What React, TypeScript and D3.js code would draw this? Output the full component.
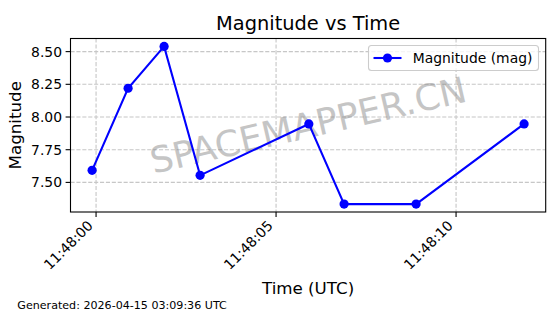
import React from "react";
import * as d3 from "d3";

const times: string[] = [
  "11:47:59.89",
  "11:48:00.89",
  "11:48:01.89",
  "11:48:02.89",
  "11:48:05.91",
  "11:48:06.89",
  "11:48:08.89",
  "11:48:11.89",
];
const magnitudes: number[] = [7.592, 8.22, 8.54, 7.554, 7.947, 7.334, 7.334, 7.947];
const yTicks: number[] = [7.5, 7.75, 8.0, 8.25, 8.5];
const xTickLabels: string[] = ["11:48:00", "11:48:05", "11:48:10"];

const title = "Magnitude vs Time";
const xLabel = "Time (UTC)";
const yLabel = "Magnitude";
const legendLabel = "Magnitude (mag)";
const watermark = "SPACEMAPPER.CN";
const footer = "Generated: 2026-04-15 03:09:36 UTC";

function parseT(s: string): Date {
  const [h, m, sec] = s.split(":");
  const secs = parseFloat(sec);
  const whole = Math.floor(secs);
  const ms = Math.round((secs - whole) * 1000);
  return new Date(Date.UTC(2026, 3, 15, +h, +m, whole, ms));
}

const W = 560;
const H = 314;
const L = 70.5;
const R = 545.7;
const T = 38.5;
const B = 212;
const FONT = "'DejaVu Sans', sans-serif";

export default function App() {
  const dates = times.map(parseT);
  const tMin = d3.min(dates)!.getTime();
  const tMax = d3.max(dates)!.getTime();
  const tPad = (tMax - tMin) * 0.05;
  const x = d3
    .scaleUtc()
    .domain([new Date(tMin - tPad), new Date(tMax + tPad)])
    .range([L, R]);
  const yMin = d3.min(magnitudes)!;
  const yMax = d3.max(magnitudes)!;
  const yPad = (yMax - yMin) * 0.05;
  const y = d3.scaleLinear().domain([yMin - yPad, yMax + yPad]).range([B, T]);

  const xTicks = xTickLabels.map(parseT);
  const pts = dates.map((d, i) => [x(d), y(magnitudes[i])] as [number, number]);
  const line = d3.line()(pts) || "";
  const fmt = d3.format(".2f");
  const dash = "4.1,1.8";
  const gridColor = "#b0b0b0";

  const cx = (L + R) / 2;
  const cy = (T + B) / 2;

  const legX = 368.5;
  const legY = 45.5;

  return (
    <svg
      width={W}
      height={H}
      style={{ position: "absolute", left: 0, top: 0, background: "#fff" }}
      fontFamily={FONT}
    >
      <rect x={0} y={0} width={W} height={H} fill="#fff" />
      {/* grid */}
      <g opacity={0.7}>
        {xTicks.map((t, i) => (
          <line
            key={"gx" + i}
            x1={x(t)}
            x2={x(t)}
            y1={T}
            y2={B}
            stroke={gridColor}
            strokeWidth={1.1}
            strokeDasharray={dash}
          />
        ))}
        {yTicks.map((v, i) => (
          <line
            key={"gy" + i}
            x1={L}
            x2={R}
            y1={y(v)}
            y2={y(v)}
            stroke={gridColor}
            strokeWidth={1.1}
            strokeDasharray={dash}
          />
        ))}
      </g>
      {/* watermark */}
      <text
        x={cx}
        y={cy}
        transform={`rotate(-13 ${cx} ${cy})`}
        textAnchor="middle"
        dominantBaseline="central"
        fontSize={36}
        fill="#808080"
        opacity={0.45}
      >
        {watermark}
      </text>
      {/* data */}
      <path d={line} fill="none" stroke="#0000ff" strokeWidth={2.08} />
      {pts.map((p, i) => (
        <circle key={"p" + i} cx={p[0]} cy={p[1]} r={4.6} fill="#0000ff" />
      ))}
      {/* spines */}
      <rect x={L} y={T} width={R - L} height={B - T} fill="none" stroke="#000" strokeWidth={1.1} />
      {/* x ticks */}
      {xTicks.map((t, i) => {
        const px = x(t);
        const bx = px - 2.2;
        const by = 226.5;
        return (
          <g key={"xt" + i}>
            <line x1={px} x2={px} y1={B} y2={B + 4.9} stroke="#000" strokeWidth={1.1} />
            <text
              x={bx}
              y={by}
              transform={`rotate(-45 ${bx} ${by})`}
              textAnchor="end"
              fontSize={13.9}
              fill="#000"
            >
              {xTickLabels[i]}
            </text>
          </g>
        );
      })}
      {/* y ticks */}
      {yTicks.map((v, i) => (
        <g key={"yt" + i}>
          <line x1={L - 4.9} x2={L} y1={y(v)} y2={y(v)} stroke="#000" strokeWidth={1.1} />
          <text
            x={L - 8.5}
            y={y(v)}
            textAnchor="end"
            dominantBaseline="central"
            fontSize={13.9}
            fill="#000"
          >
            {fmt(v)}
          </text>
        </g>
      ))}
      {/* title & labels */}
      <text x={cx} y={30} textAnchor="middle" fontSize={19.4} fill="#000">
        {title}
      </text>
      <text x={cx} y={294} textAnchor="middle" fontSize={16.7} fill="#000">
        {xLabel}
      </text>
      <text
        x={20.5}
        y={cy}
        transform={`rotate(-90 20.5 ${cy})`}
        textAnchor="middle"
        fontSize={16.7}
        fill="#000"
      >
        {yLabel}
      </text>
      <text x={17.3} y={309} fontSize={11.1} fill="#000">
        {footer}
      </text>
      {/* legend */}
      <g>
        <rect
          x={legX}
          y={legY}
          width={170}
          height={25}
          rx={3}
          fill="#fff"
          fillOpacity={0.8}
          stroke="#cccccc"
          strokeWidth={1.1}
        />
        <line x1={373.5} x2={401.5} y1={58} y2={58} stroke="#0000ff" strokeWidth={2.08} />
        <circle cx={387.5} cy={58} r={4.6} fill="#0000ff" />
        <text x={412.7} y={58} dominantBaseline="central" fontSize={13.9} fill="#000">
          {legendLabel}
        </text>
      </g>
    </svg>
  );
}
